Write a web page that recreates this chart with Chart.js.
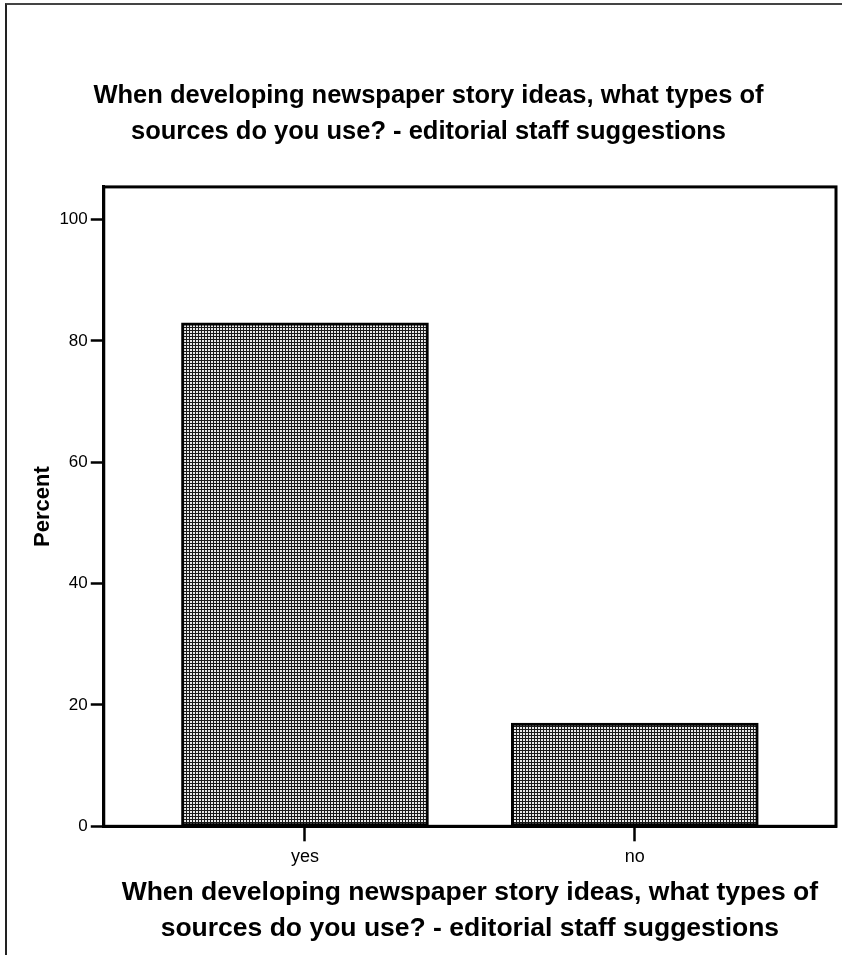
<!DOCTYPE html>
<html>
<head>
<meta charset="utf-8">
<script src="https://cdn.jsdelivr.net/npm/chart.js@4"></script>
<style>
  body { margin: 0; background: #fff; }
  #wrap { position: relative; width: 842px; height: 955px; }
  #edge { position: absolute; left: 5px; top: 3px; right: 0; bottom: 0;
          border-left: 2px solid #222; border-top: 2px solid #444; pointer-events: none; }
</style>
</head>
<body>
<div id="wrap">
  <canvas id="chart" width="842" height="955"></canvas>
  <div id="edge"></div>
</div>
<script>
// Datos
const TITLE_LINES = ['When developing newspaper story ideas, what types of',
                     'sources do you use? - editorial staff suggestions'];
const categories = ['yes', 'no'];
const percents = [83, 17];
const yTicks = [0, 20, 40, 60, 80, 100];

const FONT = '"Liberation Sans", Arial, sans-serif';

// Textura de las barras
function makePattern() {
    const c = document.createElement('canvas');
    c.width = 3;
    c.height = 3;
    const g = c.getContext('2d');
    g.fillStyle = '#e8e8e8';
    g.fillRect(0, 0, 3, 3);
    g.fillStyle = '#1a1a1a';
    g.fillRect(0, 0, 3, 1);
    g.fillRect(0, 0, 1, 3);
    return g.createPattern(c, 'repeat');
}

// Marco alrededor del área del gráfico
const framePlugin = {
    id: 'frame',
    afterDatasetsDraw(chart) {
        const a = chart.chartArea;
        const ctx = chart.ctx;
        ctx.save();
        ctx.strokeStyle = '#000';
        ctx.lineWidth = 3;
        ctx.strokeRect(a.left, a.top, a.right - a.left, a.bottom - a.top);
        ctx.restore();
    }
};

const ctx = document.getElementById('chart').getContext('2d');
new Chart(ctx, {
    type: 'bar',
    data: {
        datasets: [{
            data: percents.map((v, i) => ({ x: i + 1, y: v })),
            backgroundColor: makePattern(),
            borderColor: '#000',
            borderWidth: 3,
            borderSkipped: false,
            barThickness: 247
        }]
    },
    options: {
        responsive: false,
        animation: false,
        layout: { padding: { left: 21, right: 6, top: 78, bottom: 8 } },
        plugins: {
            legend: { display: false },
            tooltip: { enabled: false },
            title: {
                display: true,
                text: TITLE_LINES,
                color: '#000',
                font: { family: FONT, size: 25.5, weight: 'bold', lineHeight: 1.41 },
                padding: { top: 0, bottom: 37 }
            }
        },
        scales: {
            x: {
                type: 'linear',
                offset: false,
                min: 0.39,
                max: 2.61,
                afterBuildTicks: s => { s.ticks = categories.map((c, i) => ({ value: i + 1 })); },
                ticks: {
                    callback: v => categories[v - 1],
                    color: '#000',
                    font: { family: FONT, size: 18 },
                    padding: 5,
                    maxRotation: 0
                },
                grid: { offset: false, drawOnChartArea: false, drawTicks: true, tickLength: 15, tickWidth: 2.5, tickColor: '#000' },
                border: { color: '#000', width: 3 },
                title: {
                    display: true,
                    text: TITLE_LINES,
                    color: '#000',
                    font: { family: FONT, size: 26.5, weight: 'bold', lineHeight: 1.36 },
                    padding: { top: 2, bottom: 0 }
                }
            },
            y: {
                min: 0,
                max: 105.4,
                afterBuildTicks: s => { s.ticks = yTicks.map(v => ({ value: v })); },
                ticks: {
                    color: '#000',
                    font: { family: FONT, size: 17 },
                    padding: 3
                },
                grid: { drawOnChartArea: false, drawTicks: true, tickLength: 13, tickWidth: 2.5, tickColor: '#000' },
                border: { color: '#000', width: 3 },
                title: {
                    display: true,
                    text: 'Percent',
                    color: '#000',
                    font: { family: FONT, size: 22, weight: 'bold' },
                    padding: { top: 9, bottom: 0 }
                }
            }
        }
    },
    plugins: [framePlugin]
});
</script>
</body>
</html>
